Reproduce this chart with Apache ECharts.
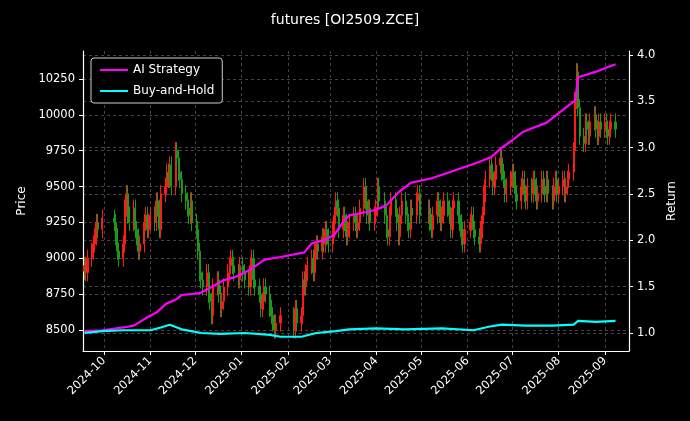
<!DOCTYPE html>
<html><head><meta charset="utf-8">
<script src="https://cdn.jsdelivr.net/npm/echarts@6/dist/echarts.min.js"></script>
<style>html,body{margin:0;background:#000}#c{width:690px;height:421px}</style>
</head><body><div id="c"></div>
<script>
// trading days per month
const monthKeys = ['2024-09','2024-10','2024-11','2024-12','2025-01','2025-02','2025-03','2025-04','2025-05','2025-06','2025-07','2025-08','2025-09'];
const monthDays = [
 [18,19,20,23,24,25,26,27,30],
 [8,9,10,11,14,15,16,17,18,21,22,23,24,25,28,29,30,31],
 [1,4,5,6,7,8,11,12,13,14,15,18,19,20,21,22,25,26,27,28,29],
 [2,3,4,5,6,9,10,11,12,13,16,17,18,19,20,23,24,25,26,27,30,31],
 [2,3,6,7,8,9,10,13,14,15,16,17,20,21,22,23,24,27],
 [5,6,7,10,11,12,13,14,17,18,19,20,21,24,25,26,27,28],
 [3,4,5,6,7,10,11,12,13,14,17,18,19,20,21,24,25,26,27,28,31],
 [1,2,3,7,8,9,10,11,14,15,16,17,18,21,22,23,24,25,28,29,30],
 [6,7,8,9,12,13,14,15,16,19,20,21,22,23,26,27,28,29,30],
 [3,4,5,6,9,10,11,12,13,16,17,18,19,20,23,24,25,26,27,30],
 [1,2,3,4,7,8,9,10,11,14,15,16,17,18,21,22,23,24,25,28,29,30,31],
 [1,4,5,6,7,8,11,12,13,14,15,18,19,20,21,22,25,26,27,28,29],
 [1,2,3,4,5,8]
];
const closes = [
 8950,8900,9000,9050,9100,9150,9250,9200,9280,
 9250,9150,9050,9000,9100,9350,9450,9300,9250,9350,9200,9150,9050,9100,9250,9300,9200,9250,
 9300,9250,9400,9350,9200,9450,9500,9600,9550,9650,9500,9750,9700,9600,9550,9450,9400,9350,9300,9400,9250,
 9200,9050,8900,8850,8800,8900,8750,8700,8600,8800,8850,8750,8650,8700,8800,8900,8950,9000,8950,8900,8850,8950,
 8900,8850,8800,8950,9000,8850,8800,8750,8650,8700,8800,8750,8650,8600,8550,8500,8550,8600,
 8500,8650,8550,8600,8850,8800,8900,8950,9000,8900,9050,9100,9050,9150,9100,9200,9150,9100,
 9200,9300,9400,9350,9200,9300,9250,9150,9200,9250,9300,9250,9200,9250,9350,9500,9400,9300,9350,9250,9300,
 9350,9500,9400,9300,9200,9150,9300,9400,9350,9250,9150,9300,9400,9300,9250,9200,9350,9300,9400,9450,9300,
 9350,9250,9200,9300,9400,9350,9250,9300,9400,9350,9300,9200,9350,9400,9300,9250,9150,9100,9200,
 9250,9300,9200,9150,9100,9200,9300,9450,9550,9650,9600,9500,9550,9650,9700,9600,9550,9450,9500,9550,
 9600,9550,9450,9400,9500,9550,9450,9400,9500,9450,9550,9500,9400,9450,9550,9500,9450,9550,9450,9400,9500,9550,9450,
 9500,9550,9450,9500,9550,9600,9750,10100,10300,10050,9850,9800,9950,9900,9850,9950,10000,9900,9850,9950,9900,
 9950,9900,9850,9900,9950,9900
];
const aiDates = ['2024-09-18','2024-09-30','2024-10-14','2024-10-21','2024-10-25','2024-10-30','2024-11-05','2024-11-12','2024-11-18','2024-11-22','2024-12-04','2024-12-10','2024-12-20','2024-12-27','2025-01-03','2025-01-10','2025-01-16','2025-01-27','2025-02-12','2025-02-17','2025-02-25','2025-03-04','2025-03-10','2025-03-14','2025-03-24','2025-04-01','2025-04-08','2025-04-16','2025-04-24','2025-05-08','2025-05-19','2025-06-06','2025-06-17','2025-06-24','2025-07-01','2025-07-08','2025-07-16','2025-07-24','2025-08-04','2025-08-12','2025-08-14','2025-08-20','2025-08-26','2025-09-03','2025-09-08'];
const aiValues = [1.02,1.03,1.06,1.08,1.12,1.17,1.22,1.32,1.36,1.41,1.43,1.48,1.57,1.60,1.65,1.72,1.79,1.82,1.87,1.97,2.00,2.06,2.20,2.27,2.30,2.33,2.38,2.52,2.62,2.67,2.73,2.83,2.90,3.00,3.08,3.17,3.22,3.27,3.41,3.51,3.76,3.79,3.82,3.87,3.90];
const bhDates = ['2024-09-18','2024-09-30','2024-10-14','2024-11-01','2024-11-08','2024-11-14','2024-11-22','2024-12-05','2024-12-18','2025-01-03','2025-01-20','2025-01-27','2025-02-10','2025-02-20','2025-03-05','2025-03-14','2025-04-01','2025-04-20','2025-05-15','2025-06-05','2025-06-16','2025-06-24','2025-07-10','2025-07-28','2025-08-11','2025-08-14','2025-08-26','2025-09-08'];
const bhValues = [1.00,1.02,1.03,1.03,1.06,1.09,1.04,1.00,0.99,1.00,0.98,0.96,0.96,1.00,1.02,1.04,1.05,1.04,1.05,1.03,1.07,1.09,1.08,1.08,1.09,1.13,1.12,1.13];
const priceTicks = [8500,8750,9000,9250,9500,9750,10000,10250];
const returnTicks = [1.0,1.5,2.0,2.5,3.0,3.5,4.0];
const monthTicks = ['2024-10-01','2024-11-01','2024-12-01','2025-01-01','2025-02-01','2025-03-01','2025-04-01','2025-05-01','2025-06-01','2025-07-01','2025-08-01','2025-09-01'];

const dates = [];
monthKeys.forEach((m,i)=>monthDays[i].forEach(d=>dates.push(m+'-'+String(d).padStart(2,'0'))));
const ts = s => Date.UTC(+s.slice(0,4), +s.slice(5,7)-1, +s.slice(8,10));
const candles = dates.map((d,i)=>{
  const c = closes[i], o = i? closes[i-1] : closes[0]-40;
  return [ts(d), o, c, Math.min(o,c)-60, Math.max(o,c)+60];
});
const F = 'DejaVu Sans';
const chart = echarts.init(document.getElementById('c'));
const dash = {show:true,lineStyle:{color:'#555',type:[3,3],width:0.8}};
chart.setOption({
  backgroundColor:'#000',
  animation:false,
  textStyle:{fontFamily:F},
  title:{text:'futures [OI2509.ZCE]',left:'center',top:8,textStyle:{color:'#fff',fontSize:14,fontWeight:'normal',fontFamily:F}},
  legend:{left:91,top:58,orient:'vertical',itemWidth:28,itemHeight:2,itemGap:9,
    backgroundColor:'#000',borderColor:'#ccc',borderWidth:1,borderRadius:3,padding:[6,8],
    textStyle:{color:'#fff',fontSize:12,fontFamily:F},data:['AI Strategy','Buy-and-Hold']},
  grid:{left:83,right:61,top:51,bottom:70},
  xAxis:{type:'value',min:ts('2024-09-17'),max:ts('2025-09-17'),
    axisLine:{show:true,lineStyle:{color:'#fff',width:1.2}},
    axisTick:{show:true,customValues:monthTicks.map(ts),lineStyle:{color:'#fff'},length:4},
    axisLabel:{customValues:monthTicks.map(ts),rotate:45,color:'#fff',fontSize:11.5,fontFamily:F,margin:8,
      formatter:v=>{const d=new Date(v);return d.getUTCFullYear()+'-'+String(d.getUTCMonth()+1).padStart(2,'0');}},
    splitLine:dash},
  yAxis:[
    {type:'value',min:8354,max:10445,name:'Price',nameLocation:'middle',nameGap:52,nameTextStyle:{color:'#fff',fontSize:12},
     axisLine:{show:true,lineStyle:{color:'#fff',width:1.2}},
     axisTick:{show:true,customValues:priceTicks,lineStyle:{color:'#fff'},length:4},
     axisLabel:{customValues:priceTicks,color:'#fff',fontSize:11.5,fontFamily:F,formatter:v=>String(Math.round(v))},splitLine:dash},
    {type:'value',min:0.806,max:4.043,position:'right',name:'Return',nameLocation:'middle',nameGap:36,nameTextStyle:{color:'#fff',fontSize:12},
     axisLine:{show:true,lineStyle:{color:'#fff',width:1.2}},
     axisTick:{show:true,customValues:returnTicks,lineStyle:{color:'#fff'},length:4},
     axisLabel:{customValues:returnTicks,color:'#fff',fontSize:11.5,fontFamily:F,formatter:v=>v.toFixed(1)},splitLine:dash}
  ],
  series:[
    {type:'candlestick',name:'price',yAxisIndex:0,barWidth:1.6,
     data:candles,
     itemStyle:{color:'#ff1a1a',color0:'#1a9a1a',borderColor:'#ff1a1a',borderColor0:'#1a9a1a',borderWidth:1}},
    {type:'line',name:'AI Strategy',yAxisIndex:1,symbol:'none',color:'#ff00ff',lineStyle:{width:2.2,color:'#ff00ff'},
     data:aiDates.map((d,i)=>[ts(d),aiValues[i]])},
    {type:'line',name:'Buy-and-Hold',yAxisIndex:1,symbol:'none',color:'#00ffff',lineStyle:{width:2.2,color:'#00ffff'},
     data:bhDates.map((d,i)=>[ts(d),bhValues[i]])}
  ]
});
</script></body></html>
